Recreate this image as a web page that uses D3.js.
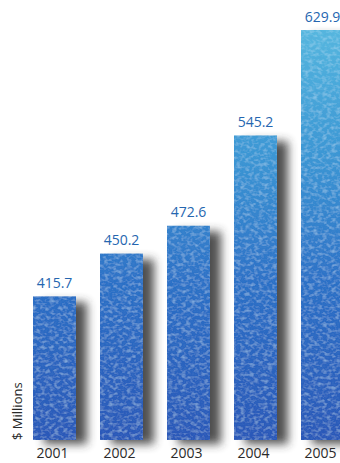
<!DOCTYPE html>
<html>
<head>
<meta charset="utf-8">
<script src="https://cdn.jsdelivr.net/npm/d3@7"></script>
<style>
  html, body { margin: 0; padding: 0; background: #ffffff; }
  svg { display: block; }
</style>
</head>
<body>
<div id="chart"></div>
<script>
// Annual figures in $ millions
const years = ["2001", "2002", "2003", "2004", "2005"];
const values = [415.7, 450.2, 472.6, 545.2, 629.9];
const valueLabels = ["415.7", "450.2", "472.6", "545.2", "629.9"];
const axisTitle = "$ Millions";

const width = 340, height = 463;
const baseY = 440;
const font = "'Open Sans', 'Noto Sans', sans-serif";

const svg = d3.select("#chart").append("svg")
  .attr("width", width).attr("height", height);

const defs = svg.append("defs");

// Vertical water-blue gradient shared by all bars (absolute coordinates)
const grad = defs.append("linearGradient")
  .attr("id", "water")
  .attr("gradientUnits", "userSpaceOnUse")
  .attr("x1", 0).attr("y1", 30).attr("x2", 0).attr("y2", baseY);
grad.append("stop").attr("offset", "0%").attr("stop-color", "#56b7df");
grad.append("stop").attr("offset", "30%").attr("stop-color", "#3b97d4");
grad.append("stop").attr("offset", "62%").attr("stop-color", "#2c70c6");
grad.append("stop").attr("offset", "100%").attr("stop-color", "#2958b8");

// Soft shadow cast to the right of each bar
const shadow = defs.append("filter").attr("id", "shadow")
  .attr("x", "-30%").attr("y", "-10%").attr("width", "180%").attr("height", "130%");
shadow.append("feGaussianBlur").attr("stdDeviation", 5);

// Subtle rippled droplet texture over the bar fill
const tex = defs.append("filter").attr("id", "ripple")
  .attr("x", 0).attr("y", 0).attr("width", "100%").attr("height", "100%");
tex.append("feTurbulence").attr("type", "fractalNoise")
  .attr("baseFrequency", "0.22 0.3").attr("numOctaves", 2).attr("seed", 7)
  .attr("result", "noise");
// light highlights
tex.append("feColorMatrix").attr("in", "noise").attr("type", "matrix")
  .attr("values", "0 0 0 0 0.55  0 0 0 0 0.85  0 0 0 0 1  0.8 0 0 0 -0.36")
  .attr("result", "hi");
// darker troughs
tex.append("feColorMatrix").attr("in", "noise").attr("type", "matrix")
  .attr("values", "0 0 0 0 0.1  0 0 0 0 0.28  0 0 0 0 0.62  -0.7 0 0 0 0.28")
  .attr("result", "lo");
tex.append("feMerge").attr("result", "tx").call(m => {
  m.append("feMergeNode").attr("in", "SourceGraphic");
  m.append("feMergeNode").attr("in", "lo");
  m.append("feMergeNode").attr("in", "hi");
});
tex.append("feComposite").attr("in", "tx").attr("in2", "SourceGraphic").attr("operator", "in");

const x = d3.scaleBand()
  .domain(years)
  .range([33, 344])
  .paddingInner(0.358)
  .paddingOuter(0);

const y = d3.scaleLinear()
  .domain([300, 629.9])
  .range([baseY, 30]);

const data = years.map((yr, i) => ({ year: yr, value: values[i], label: valueLabels[i] }));

// Shadows
svg.append("g").selectAll("rect").data(data).join("rect")
  .attr("x", d => x(d.year) + 11)
  .attr("y", d => y(d.value) + 6)
  .attr("width", x.bandwidth())
  .attr("height", d => baseY - y(d.value) - 2)
  .attr("fill", "#333333")
  .attr("opacity", 0.85)
  .attr("filter", "url(#shadow)");

// Bars
svg.append("g").selectAll("rect").data(data).join("rect")
  .attr("x", d => x(d.year))
  .attr("y", d => y(d.value))
  .attr("width", x.bandwidth())
  .attr("height", d => baseY - y(d.value))
  .attr("fill", "url(#water)")
  .attr("filter", "url(#ripple)");

// Value labels
svg.append("g").selectAll("text").data(data).join("text")
  .attr("x", d => x(d.year) + x.bandwidth() / 2)
  .attr("y", d => y(d.value) - 8)
  .attr("text-anchor", "middle")
  .attr("font-family", font)
  .attr("font-size", 14)
  .attr("fill", "#2566b0")
  .text(d => d.label);

// Year axis
const xAxis = svg.append("g")
  .attr("transform", `translate(-2,${baseY})`)
  .call(d3.axisBottom(x).tickSize(0).tickPadding(8));
xAxis.select(".domain").remove();
xAxis.selectAll("text")
  .attr("font-family", font)
  .attr("font-size", 14)
  .attr("fill", "#2a2a2a");

// Axis title
svg.append("text")
  .attr("transform", `translate(22,${baseY}) rotate(-90)`)
  .attr("text-anchor", "start")
  .attr("font-family", font)
  .attr("font-size", 13)
  .attr("fill", "#2a2a2a")
  .text(axisTitle);
</script>
</body>
</html>
